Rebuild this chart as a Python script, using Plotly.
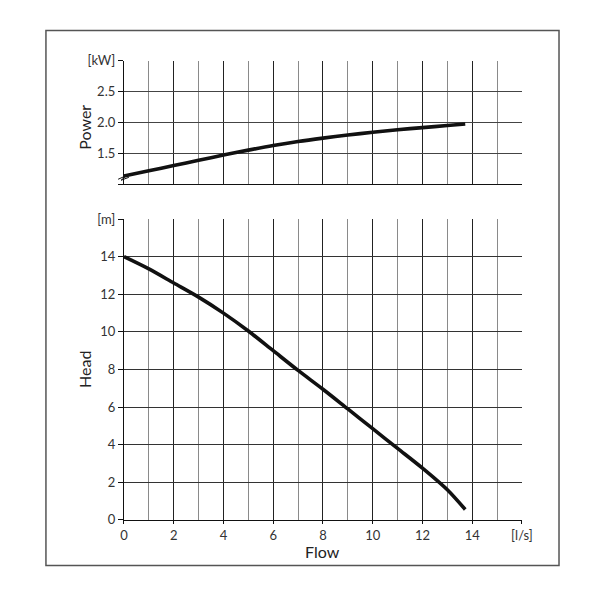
import plotly.graph_objects as go

# ---- data ----
flow = [0, 1, 2, 3, 4, 5, 6, 7, 8, 9, 10, 11, 12, 13, 13.72]
power = [1.13, 1.215, 1.30, 1.385, 1.47, 1.55, 1.625, 1.69, 1.745, 1.795, 1.84, 1.88, 1.915, 1.948, 1.972]
head = [14.0, 13.35, 12.6, 11.85, 11.0, 10.05, 9.0, 7.95, 6.95, 5.9, 4.85, 3.8, 2.75, 1.6, 0.55]

x_tickvals = [0, 2, 4, 6, 8, 10, 12, 14, 16]
x_ticktext = ["0", "2", "4", "6", "8", "10", "12", "14", "[l/s]"]
p_tickvals = [1.0, 1.5, 2.0, 2.5, 3.0]
p_ticktext = ["", "1.5", "2.0", "2.5", "[kW]"]
h_tickvals = [0, 2, 4, 6, 8, 10, 12, 14, 16]
h_ticktext = ["0", "2", "4", "6", "8", "10", "12", "14", "[m]"]

W, H = 610, 594
def px(x):
    return x / W
def py(y):
    return 1 - y / H

FONT = "Lato, 'Noto Sans', sans-serif"
LINE = "#111111"

fig = go.Figure()
fig.add_trace(go.Scatter(x=flow, y=power, mode="lines", line=dict(color=LINE, width=3.6, shape="spline", smoothing=0.8),
                         xaxis="x", yaxis="y", showlegend=False, hoverinfo="skip"))
fig.add_trace(go.Scatter(x=flow, y=head, mode="lines", line=dict(color=LINE, width=3.6, shape="spline", smoothing=0.8),
                         xaxis="x2", yaxis="y2", showlegend=False, hoverinfo="skip"))

xdom = [px(123), px(531)]
common_x = dict(range=[0, 16], domain=xdom, showline=True, linecolor="#111", linewidth=1.2,
                showgrid=True, gridcolor="#222", gridwidth=1, zeroline=False,
                minor=dict(dtick=1, tick0=0, showgrid=True, gridcolor="#8a8a8a", gridwidth=1, ticks=""),
                mirror=False, fixedrange=True)

fig.update_layout(
    width=W, height=H, margin=dict(l=0, r=0, t=0, b=0),
    paper_bgcolor="white", plot_bgcolor="white",
    font=dict(family=FONT, color="#333", size=13),
    xaxis=dict(**common_x, anchor="y", tickmode="array", tickvals=x_tickvals, ticktext=[""] * len(x_tickvals),
               ticks="", showticklabels=False),
    yaxis=dict(domain=[py(181), py(54)], range=[1.0, 3.0], anchor="x", tickmode="array",
               tickvals=p_tickvals, ticktext=p_ticktext, ticks="outside", ticklen=5, tickcolor="#111",
               showline=True, linecolor="#111", linewidth=1.2, showgrid=True, gridcolor="#444",
               zeroline=False, fixedrange=True, tickfont=dict(size=13, color="#333")),
    xaxis2=dict(**common_x, anchor="y2", tickmode="array", tickvals=x_tickvals, ticktext=x_ticktext,
                ticks="outside", ticklen=3, tickcolor="#111", tickfont=dict(size=13, color="#333")),
    yaxis2=dict(domain=[py(526), py(217)], range=[0, 16], anchor="x2", tickmode="array",
                tickvals=h_tickvals, ticktext=h_ticktext, ticks="outside", ticklen=5, tickcolor="#111",
                showline=True, linecolor="#111", linewidth=1.2, showgrid=True, gridcolor="#333",
                zeroline=False, fixedrange=True, tickfont=dict(size=13, color="#333")),
)

# axis titles
title_font = dict(size=16, color="#222", family=FONT)
fig.add_annotation(text="Power", x=px(83), y=py(122), xref="paper", yref="paper", textangle=-90,
                   xanchor="center", yanchor="middle", showarrow=False, font=title_font)
fig.add_annotation(text="Head", x=px(82), y=py(371), xref="paper", yref="paper", textangle=-90,
                   xanchor="center", yanchor="middle", showarrow=False, font=title_font)
fig.add_annotation(text="Flow", x=px(327), y=py(559), xref="paper", yref="paper",
                   xanchor="center", yanchor="middle", showarrow=False, font=title_font)

# outer frame
fig.add_shape(type="rect", xref="paper", yref="paper", x0=px(43), y0=py(573), x1=px(569), y1=py(23),
              line=dict(color="#555", width=1.5))
# axis break mark on power axis
fig.add_shape(type="path", xref="paper", yref="paper",
              path=f"M {px(117)} {py(176)} L {px(126)} {py(172)} L {px(120)} {py(177)} L {px(128)} {py(174)}",
              line=dict(color="#111", width=1))

fig.write_html("out.html")
